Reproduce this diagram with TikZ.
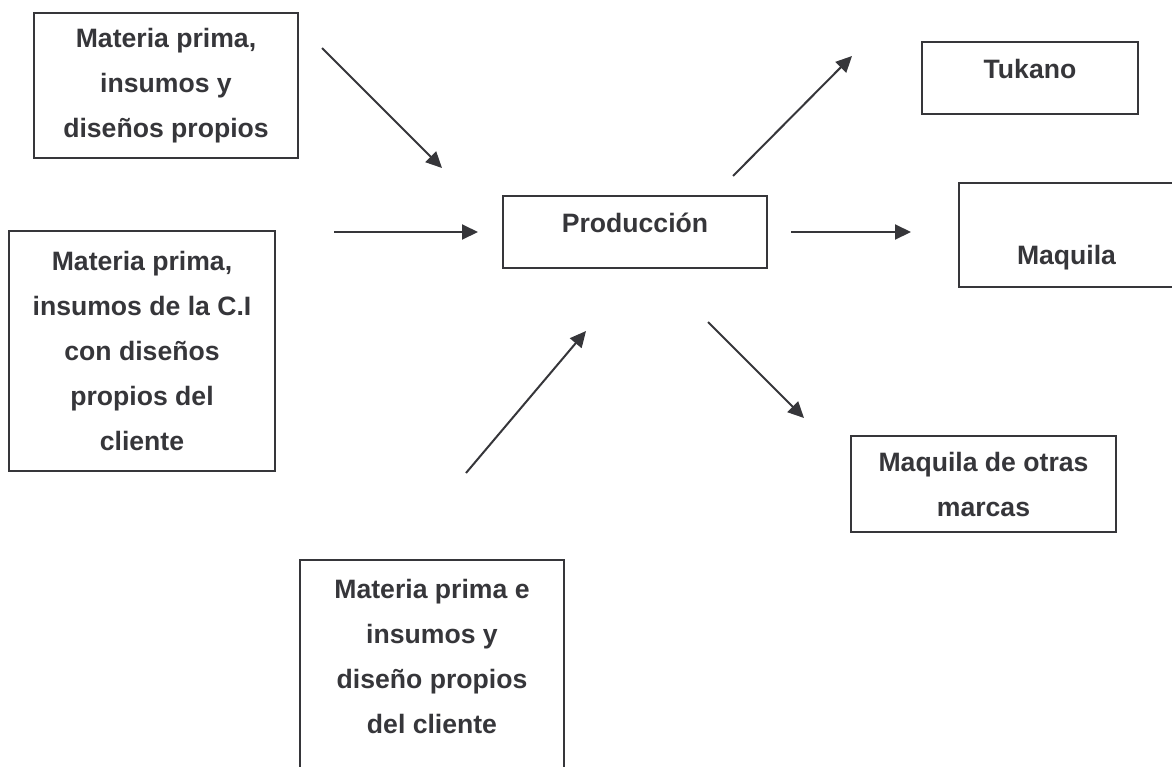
\documentclass[tikz,border=0pt]{standalone}
\usepackage{fontspec}
\setmainfont{Liberation Sans}
\usepackage{xcolor}
\usepackage{tikz}
\usetikzlibrary{arrows.meta}
\definecolor{ink}{HTML}{36363A}
\tikzset{
  box/.style={draw=ink,line width=1pt,inner sep=0pt,align=center,text=ink},
  flow/.style={draw=ink,line width=1pt,-{Triangle[length=8pt,width=7.5pt]}},
}
\begin{document}
\begin{tikzpicture}[x=0.5pt,y=-0.5pt,font=\bfseries\fontsize{13.3}{22.5}\selectfont]
  \useasboundingbox (0,0) rectangle (1172,766);
  \clip (0,0) rectangle (1172,766);
  % entradas
  \node[box,minimum width=132pt,minimum height=72.5pt] (mp1) at (166,85.5)
    {Materia prima,\\insumos y\\diseños propios};
  \node[box,minimum width=133pt,minimum height=120pt] (mp2) at (142,351)
    {Materia prima,\\insumos de la C.I\\con diseños\\propios del\\cliente};
  \node[box,minimum width=132pt,minimum height=120pt,
        label={[align=center,text=ink,yshift=12pt]center:{Materia prima e\\insumos y\\diseño propios\\del cliente}}]
    (mp3) at (432,680) {};
  % proceso y salidas
  \node[box,minimum width=132pt,text height=18pt,text depth=18pt] (prod) at (635,232) {Producción};
  \node[box,minimum width=108pt,text height=18pt,text depth=18pt] (tuk) at (1030,78) {Tukano};
  \node[box,minimum width=145.5pt,minimum height=52pt,
        label={[text=ink,xshift=-19pt,yshift=-11.5pt]center:Maquila}] (maq) at (1104.5,235) {};
  \node[box,minimum width=132.5pt,minimum height=48pt] (otras) at (983.5,484)
    {Maquila de otras\\marcas};
  % extremos libres de las flechas
  \coordinate (mp1o) at (322,48);  \coordinate (pin1) at (442,168);
  \coordinate (mp2o) at (334,232); \coordinate (pin2) at (478,232);
  \coordinate (mp3o) at (466,473); \coordinate (pin3) at (586,331);
  \coordinate (pout1) at (733,176); \coordinate (tuki) at (852,56);
  \coordinate (pout2) at (791,232); \coordinate (maqi) at (911,232);
  \coordinate (pout3) at (708,322); \coordinate (otri) at (804,418);
  \draw[flow] (mp1o) -- (pin1);
  \draw[flow] (mp2o) -- (pin2);
  \draw[flow] (mp3o) -- (pin3);
  \draw[flow] (pout1) -- (tuki);
  \draw[flow] (pout2) -- (maqi);
  \draw[flow] (pout3) -- (otri);
\end{tikzpicture}
\end{document}
